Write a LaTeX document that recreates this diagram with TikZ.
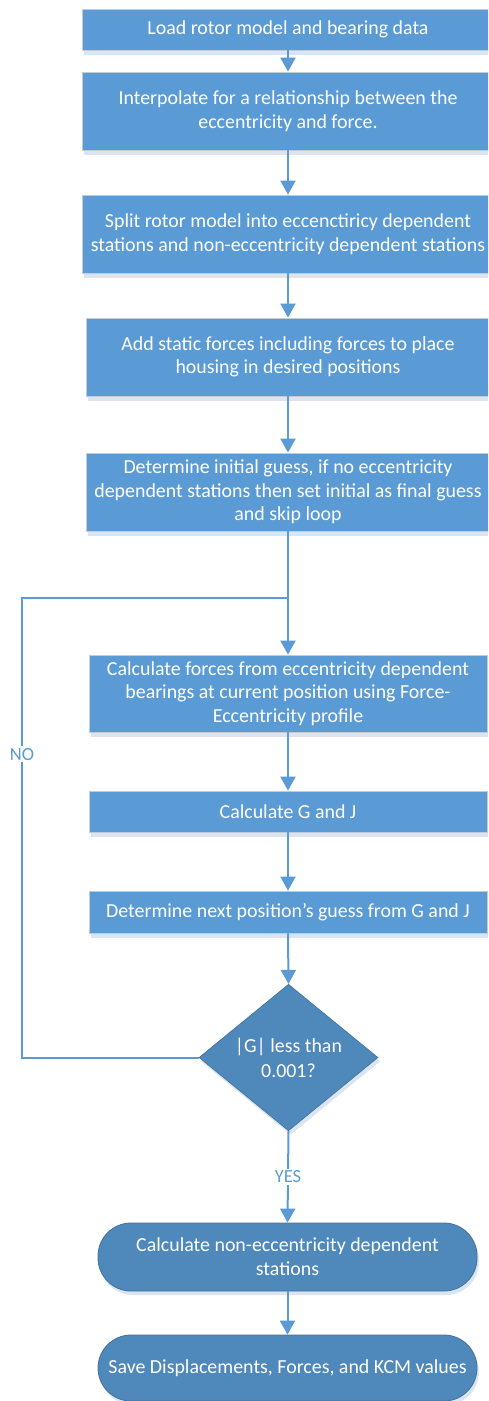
\documentclass[tikz,border=0pt]{standalone}
\usepackage{fontspec}
\setmainfont{Carlito}
\usetikzlibrary{arrows.meta,shapes.geometric,shadows}
\definecolor{boxc}{HTML}{5B9BD5}
\definecolor{darkc}{HTML}{4F88BB}
\definecolor{edgec}{HTML}{41719C}
\definecolor{lightedge}{HTML}{C3CBD3}
\definecolor{shadc}{HTML}{DAE5F1}
\begin{document}
\begin{tikzpicture}[x=1pt,y=-1pt,
  proc/.style={rectangle, fill=boxc, draw=lightedge, line width=0.8pt, text=white,
    font=\fontsize{19.9}{23.5}\selectfont, align=center, inner sep=0pt,
    general shadow={fill=shadc, draw=none, shadow xshift=2pt, shadow yshift=-5pt}},
  decis/.style={diamond, fill=darkc, draw=edgec, line width=0.6pt, text=white,
    font=\fontsize{19.9}{25}\selectfont, align=center, inner sep=0pt,
    minimum width=179pt, minimum height=135pt,
    general shadow={fill=shadc, draw=none, shadow xshift=2pt, shadow yshift=-4pt}},
  term/.style={rectangle, rounded corners=33pt, fill=darkc, draw=edgec, line width=0.8pt, text=white,
    font=\fontsize{19.9}{24}\selectfont, align=center, inner sep=0pt,
    general shadow={fill=shadc, draw=none, shadow xshift=2pt, shadow yshift=-4pt}},
  conn/.style={draw=boxc, line width=2pt, -{Triangle[width=15pt,length=14pt]}},
  plain/.style={draw=boxc, line width=2pt},
  lbl/.style={fill=white, text=boxc, font=\fontsize{18.5}{20}\selectfont, inner sep=2pt}
]
\useasboundingbox (0,0) rectangle (488,1401);
\clip (0,0) rectangle (488,1401);

\node[proc, minimum width=412pt, minimum height=41pt] (b1) at (288,29.5)
  {Load rotor model and bearing data};
\node[proc, minimum width=412pt, minimum height=78pt] (b2) at (288,111)
  {Interpolate for a relationship between the\\eccentricity and force.};
\node[proc, minimum width=412pt, minimum height=78pt] (b3) at (288,234)
  {Split rotor model into eccenctiricy dependent\\stations and non-eccentricity dependent stations};
\node[proc, minimum width=404pt, minimum height=78pt] (b4) at (288,357)
  {Add static forces including forces to place\\housing in desired positions};
\node[proc, minimum width=404pt, minimum height=78pt] (b5) at (288,492)
  {Determine initial guess, if no eccentricity\\dependent stations then set initial as final guess\\and skip loop};
\node[proc, minimum width=398pt, minimum height=77pt] (b6) at (288,693.5)
  {Calculate forces from eccentricity dependent\\bearings at current position using Force-\\Eccentricity profile};
\node[proc, minimum width=398pt, minimum height=41pt] (b7) at (288,811.5)
  {Calculate G and J};
\node[proc, minimum width=398pt, minimum height=42pt] (b8) at (288,912)
  {Determine next position’s guess from G and J};
\node[decis] (dec) at (288.5,1057.5) {|G| less than\\0.001?};
\node[term, minimum width=379pt, minimum height=68pt] (t1) at (287.5,1257)
  {Calculate non-eccentricity dependent\\stations};
\node[term, minimum width=379pt, minimum height=66pt] (t2) at (287.5,1368)
  {Save Displacements, Forces, and KCM values};

\coordinate (j) at (288,598);
\coordinate (c1) at (22,1057.5);
\coordinate (c2) at (22,598);

\draw[conn] (b1.south) -- (b2.north);
\draw[conn] (b2.south) -- (b3.north);
\draw[conn] (b3.south) -- (b4.north);
\draw[conn] (b4.south) -- (b5.north);
\draw[conn] (b5.south) -- (b6.north);
\draw[conn] (b6.south) -- (b7.north);
\draw[conn] (b7.south) -- (b8.north);
\draw[conn] (b8.south) -- (dec.north);
\draw[plain] (dec.west) -- (c1) -- node[lbl, pos=0.66] {NO} (c2) -- (j);
\draw[conn] (dec.south) -- node[lbl] {YES} (t1.north);
\draw[conn] (t1.south) -- (t2.north);
\end{tikzpicture}
\end{document}
